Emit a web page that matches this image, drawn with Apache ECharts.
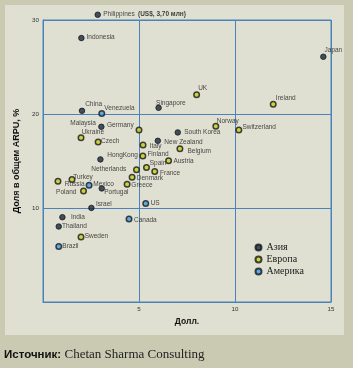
<!DOCTYPE html>
<html>
<head>
<meta charset="utf-8">
<script src="https://cdn.jsdelivr.net/npm/echarts@6/dist/echarts.min.js"></script>
<style>
html,body{margin:0;padding:0;background:#cacab3;}
#chart{width:353px;height:368px;}
</style>
</head>
<body>
<div id="chart"></div>
<script>
// ---- data ----
var countries = ['Philippines','Indonesia','China','Venezuela','Singapore','UK','Ireland','Japan',
  'Malaysia','Germany','Ukraine','Czech','HongKong','Italy','Finland','Norway','South Korea',
  'New Zealand','Belgium','Austria','Spain','France','Netherlands','Denmark','Greece','Switzerland',
  'Turkey','Russia','Mexico','Poland','Portugal','Israel','US','India','Canada','Thailand','Sweden','Brazil'];
var arpuUsd = [2.85,2.0,2.03,3.06,6.02,8.0,11.99,14.6,
  3.04,5.0,1.98,2.87,2.99,5.21,5.2,9.0,7.02,
  5.98,7.13,6.54,5.39,5.82,4.87,4.64,4.38,10.2,
  1.51,0.78,2.4,2.11,3.06,2.52,5.35,1.01,4.48,0.82,1.98,0.82];
var arpuShare = [30.56,28.08,20.34,20.06,20.66,22.04,21.05,26.09,
  18.64,18.29,17.47,17.01,15.17,16.69,15.52,18.71,18.04,
  17.15,16.29,15.02,14.31,13.89,14.06,13.28,12.53,18.29,
  13.04,12.85,12.43,11.82,12.08,10.01,10.48,9.02,8.84,8.03,6.92,5.9];
var regions = ['A','A','A','M','A','E','E','A',
  'A','E','E','E','A','E','E','E','A',
  'A','E','E','E','E','E','E','E','E',
  'E','E','M','E','A','A','M','A','M','A','E','M'];
var regionNames = {A:'Азия', E:'Европа', M:'Америка'};
var xTicks = [5,10,15];
var yTicks = [10,20,30];
var extraNote = {'Philippines':'(US$, 3,70 млн)'};

// ---- label layout (placement only) ----
var labelLayout = {
  'Philippines':[6,0,'l'],'Indonesia':[5.6,0,'l'],'China':[3.7,-6.4,'l'],'Venezuela':[3.3,-4,'l'],
  'Singapore':[-2,-4,'l'],'UK':[2.3,-5.4,'l'],'Ireland':[3.4,-5,'l'],'Japan':[1.7,-5.7,'l'],
  'Malaysia':[-5,-3.4,'r'],'Germany':[-4.6,-4,'r'],'Ukraine':[1.4,-5,'l'],'Czech':[3.7,0,'l'],
  'HongKong':[7.3,-3.3,'l'],'Italy':[7.4,2.3,'l'],'Finland':[5.3,-1,'l'],'Norway':[1.7,-3.7,'l'],
  'South Korea':[7,0,'l'],'New Zealand':[7,1.6,'l'],'Belgium':[8.3,2.6,'l'],'Austria':[5.6,1,'l'],
  'Spain':[4,-4,'l'],'France':[6,2.4,'l'],'Netherlands':[-9.4,0.3,'r'],'Denmark':[5.4,2,'l'],
  'Greece':[5,1.3,'l'],'Switzerland':[4.3,-1.7,'l'],'Turkey':[2,-1,'l'],'Russia':[7.5,4,'l'],
  'Mexico':[5,0,'l'],'Poland':[-6.4,2,'r'],'Portugal':[3,4.4,'l'],'Israel':[5,-3.4,'l'],
  'US':[5.7,0,'l'],'India':[9,0,'l'],'Canada':[5.7,2,'l'],'Thailand':[3.7,0,'l'],
  'Sweden':[4.4,0,'l'],'Brazil':[4.3,0,'l']
};

var styles = {
  A:{size:5.5, item:{color:'#1c2838', borderColor:'#111820', borderWidth:1}},
  E:{size:5.5, item:{color:'#c4cc28', borderColor:'#161812', borderWidth:1.5}},
  M:{size:5.5, item:{color:'#3c9ee0', borderColor:'#161820', borderWidth:1.5}}
};

function buildSeries(code){
  var s = styles[code];
  var data = [];
  for (var i=0;i<countries.length;i++){
    if (regions[i]!==code) continue;
    var name = countries[i];
    var lay = labelLayout[name] || [5,0,'l'];
    var half = s.size/2;
    var fmt = extraNote[name] ? '{n|'+name+'} {b|'+extraNote[name]+'}' : '{n|'+name+'}';
    data.push({
      name:name,
      value:[arpuUsd[i], arpuShare[i]],
      label:{
        show:true,
        position:[lay[0]+half, lay[1]+half],
        align: lay[2]==='r' ? 'right' : 'left',
        verticalAlign:'middle',
        formatter: fmt
      }
    });
  }
  return {
    name: regionNames[code],
    type:'scatter',
    symbol:'circle',
    symbolSize:s.size,
    clip:false,
    itemStyle:s.item,
    emphasis:{disabled:true},
    label:{
      show:true,
      rich:{
        n:{fontFamily:'Liberation Sans, Arial, sans-serif', fontSize:6.5, color:'#1a1a1a'},
        b:{fontFamily:'Liberation Sans Narrow, Liberation Sans, sans-serif', fontSize:6.5, fontWeight:'bold', color:'#111'}
      }
    },
    data:data
  };
}

var chart = echarts.init(document.getElementById('chart'), null, {renderer:'canvas'});
var blue = '#4b82ba';
var option = {
  backgroundColor:'#cacab3',
  animation:false,
  graphic:[
    {type:'rect', z:-10, silent:true, shape:{x:5,y:5,width:339,height:330}, style:{fill:'#dfdfd2'}},
    {type:'text', left:4, top:348, silent:true, style:{
      text:'{a|Источник:} {b|Chetan Sharma Consulting}',
      rich:{
        a:{fontFamily:'Liberation Sans Narrow, Liberation Sans, sans-serif', fontWeight:'bold', fontSize:11.5, fill:'#111'},
        b:{fontFamily:'Liberation Serif, Times New Roman, serif', fontSize:13, fill:'#222'}
      }
    }}
  ],
  grid:{left:43, top:20, width:288, height:282, show:true, borderColor:blue, borderWidth:1, backgroundColor:'transparent'},
  legend:{
    orient:'vertical', left:249.5, top:236.5, itemGap:0, itemWidth:6, itemHeight:6,
    icon:'circle',
    textStyle:{fontFamily:'Liberation Serif, Times New Roman, serif', fontSize:10, color:'#222', lineHeight:12},
    data:['Азия','Европа','Америка']
  },
  xAxis:{
    type:'value', min:0, max:15, interval:5,
    name:'Долл.', nameLocation:'middle', nameGap:13,
    nameTextStyle:{fontFamily:'Liberation Sans Narrow, Liberation Sans, sans-serif', fontWeight:'bold', fontSize:8.5, color:'#111'},
    axisLine:{show:true, lineStyle:{color:blue, width:1}},
    axisTick:{show:false},
    axisLabel:{margin:4, fontFamily:'Liberation Sans, Arial, sans-serif', fontSize:6.2, color:'#333',
      formatter:function(v){return xTicks.indexOf(v)>=0 ? String(v) : '';}},
    splitLine:{show:true, lineStyle:{color:blue, width:1}}
  },
  yAxis:{
    type:'value', min:0, max:30, interval:10,
    name:'Доля в общем ARPU, %', nameLocation:'middle', nameGap:21, nameRotate:90,
    nameTextStyle:{fontFamily:'Liberation Sans Narrow, Liberation Sans, sans-serif', fontWeight:'bold', fontSize:9, color:'#111'},
    axisLine:{show:true, lineStyle:{color:blue, width:1}},
    axisTick:{show:false},
    axisLabel:{margin:4, fontFamily:'Liberation Sans, Arial, sans-serif', fontSize:6.2, color:'#333',
      formatter:function(v){return yTicks.indexOf(v)>=0 ? String(v) : '';}},
    splitLine:{show:true, lineStyle:{color:blue, width:1}}
  },
  series:[buildSeries('A'), buildSeries('E'), buildSeries('M')]
};
chart.setOption(option);
</script>
</body>
</html>
